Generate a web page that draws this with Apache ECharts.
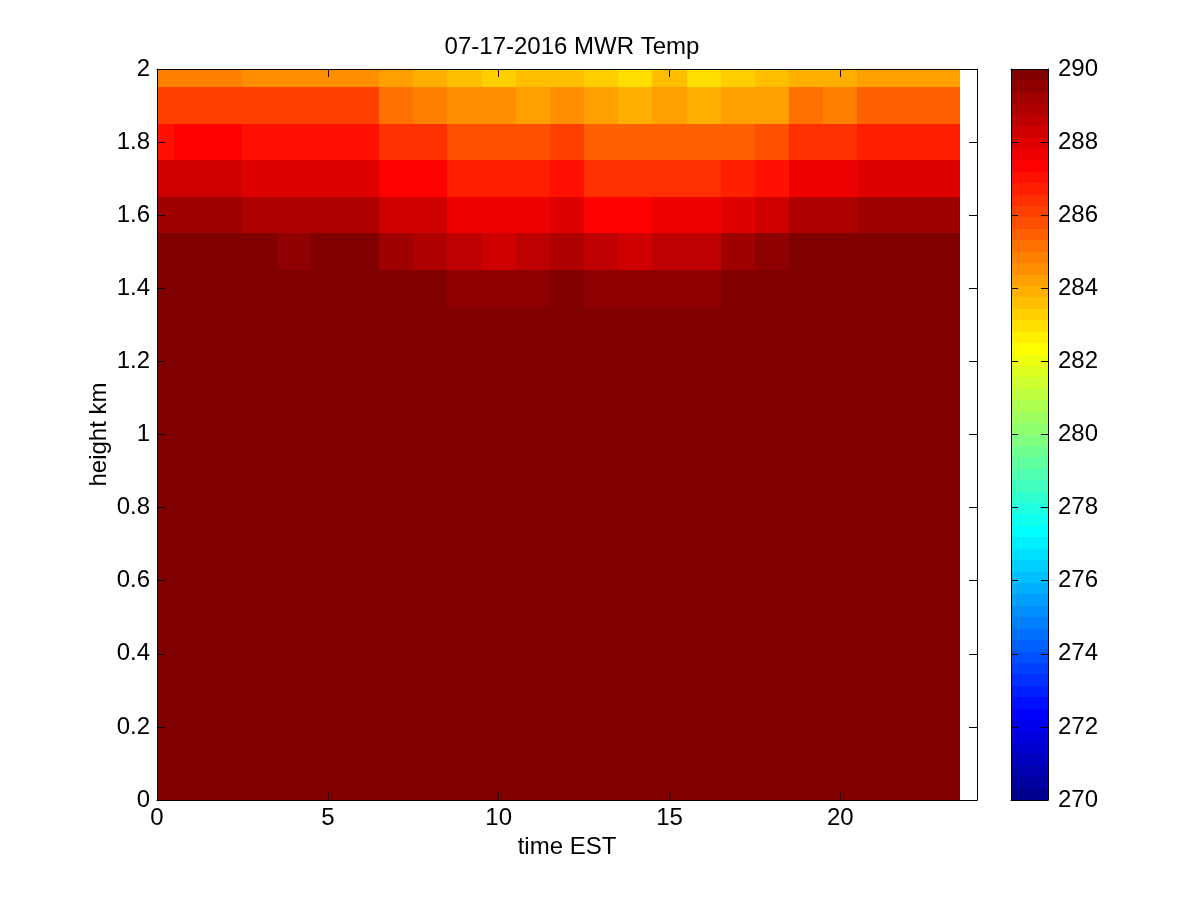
<!DOCTYPE html>
<html>
<head>
<meta charset="utf-8">
<script src="https://cdn.jsdelivr.net/npm/echarts@6/dist/echarts.min.js"></script>
<style>
  html, body { margin: 0; padding: 0; background: #fff; }
  #chart { width: 1200px; height: 900px; }
</style>
</head>
<body>
<div id="chart"></div>
<script>
// ---------------- data ----------------
const titleText = '07-17-2016 MWR Temp';
const xName = 'time EST';
const yName = 'height km';

const hours = [0,1,2,3,4,5,6,7,8,9,10,11,12,13,14,15,16,17,18,19,20,21,22,23];
const heights = [0.0,0.1,0.2,0.3,0.4,0.5,0.6,0.7,0.8,0.9,1.0,1.1,1.2,1.3,1.4,1.5,1.6,1.7,1.8,1.9,2.0];

const xTicks = [0,5,10,15,20];
const yTicks = [0,0.2,0.4,0.6,0.8,1,1.2,1.4,1.6,1.8,2];
const cTicks = [270,272,274,276,278,280,282,284,286,288,290];

// temperature (K) at each height, one value per hour
const t000 = [290,290,290,290,290,290,290,290,290,290,290,290,290,290,290,290,290,290,290,290,290,290,290,290];
const t010 = [290,290,290,290,290,290,290,290,290,290,290,290,290,290,290,290,290,290,290,290,290,290,290,290];
const t020 = [290,290,290,290,290,290,290,290,290,290,290,290,290,290,290,290,290,290,290,290,290,290,290,290];
const t030 = [290,290,290,290,290,290,290,290,290,290,290,290,290,290,290,290,290,290,290,290,290,290,290,290];
const t040 = [290,290,290,290,290,290,290,290,290,290,290,290,290,290,290,290,290,290,290,290,290,290,290,290];
const t050 = [290,290,290,290,290,290,290,290,290,290,290,290,290,290,290,290,290,290,290,290,290,290,290,290];
const t060 = [290,290,290,290,290,290,290,290,290,290,290,290,290,290,290,290,290,290,290,290,290,290,290,290];
const t070 = [290,290,290,290,290,290,290,290,290,290,290,290,290,290,290,290,290,290,290,290,290,290,290,290];
const t080 = [290,290,290,290,290,290,290,290,290,290,290,290,290,290,290,290,290,290,290,290,290,290,290,290];
const t090 = [290,290,290,290,290,290,290,290,290,290,290,290,290,290,290,290,290,290,290,290,290,290,290,290];
const t100 = [290,290,290,290,290,290,290,290,290,290,290,290,290,290,290,290,290,290,290,290,290,290,290,290];
const t110 = [290,290,290,290,290,290,290,290,290,290,290,290,290,290,290,290,290,290,290,290,290,290,290,290];
const t120 = [290,290,290,290,290,290,290,290,290,290,290,290,290,290,290,290,290,290,290,290,290,290,290,290];
const t130 = [290,290,290,290,290,290,290,290,290,290,290,290,290,290,290,290,290,290,290,290,290,290,290,290];
const t140 = [290,290,290,290,290,290,290,290,290,289.5,289.5,289.5,290,289.5,289.5,289.5,289.5,290,290,290,290,290,290,290];
const t150 = [290,290,290,290,289.5,290,290,289.2,288.9,288.6,288.3,288.6,288.9,288.6,288.3,288.6,288.6,289.2,289.5,290,290,290,290,290];
const t160 = [289.2,289.2,289.2,288.9,288.9,288.9,288.9,288.3,288.3,287.7,287.7,287.7,288.0,287.3,287.3,287.7,287.7,288.0,288.3,288.9,288.9,289.2,289.2,289.2];
const t170 = [288.3,288.3,288.3,288.0,288.0,288.0,288.0,287.3,287.3,286.7,286.7,286.7,287.0,286.4,286.4,286.4,286.4,286.7,287.0,287.7,287.7,288.0,288.0,288.0];
const t180 = [287.0,287.3,287.3,287.0,287.0,287.0,287.0,286.4,286.4,285.8,285.8,285.8,286.1,285.5,285.5,285.5,285.5,285.5,285.8,286.4,286.4,286.7,286.7,286.7];
const t190 = [286.1,286.1,286.1,286.1,286.1,286.1,286.1,285.2,284.8,284.5,284.5,284.2,284.5,284.2,283.9,284.2,283.9,284.2,284.2,285.2,284.8,285.5,285.5,285.5];
const t200 = [284.8,284.8,284.8,284.5,284.5,284.5,284.5,284.2,283.9,283.6,283.3,283.6,283.6,283.3,283.0,283.6,283.0,283.3,283.6,283.9,283.9,284.2,284.2,284.2];

const rows = [t000,t010,t020,t030,t040,t050,t060,t070,t080,t090,t100,t110,t120,t130,t140,t150,t160,t170,t180,t190,t200];

// ---------------- colour map (MATLAB jet, 64 levels) ----------------
const CMIN = 270, CMAX = 290, NLEV = 64;
function jetMap(m) {
  const n = Math.ceil(m / 4);
  const u = [];
  for (let k = 1; k <= n; k++) u.push(k / n);
  for (let k = 1; k <= n - 1; k++) u.push(1);
  for (let k = n; k >= 1; k--) u.push(k / n);
  const g0 = Math.ceil(n / 2) - (m % 4 === 1 ? 1 : 0);
  const J = [];
  for (let i = 0; i < m; i++) J.push([0, 0, 0]);
  for (let k = 0; k < u.length; k++) {
    const g = g0 + k + 1, r = g + n, b = g - n;
    if (r >= 1 && r <= m) J[r - 1][0] = u[k];
    if (g >= 1 && g <= m) J[g - 1][1] = u[k];
    if (b >= 1 && b <= m) J[b - 1][2] = u[k];
  }
  return J.map(c => 'rgb(' + c.map(x => Math.round(x * 255)).join(',') + ')');
}
const JET = jetMap(NLEV);
function levelOf(v) {
  let i = Math.floor((v - CMIN) / (CMAX - CMIN) * NLEV);
  return Math.min(NLEV - 1, Math.max(0, i));
}

// ---------------- build series data ----------------
const cells = [];
rows.forEach((row, ri) => {
  row.forEach((v, hi) => cells.push([hours[hi], heights[ri], v]));
});
const dH = hours[1] - hours[0];
const dZ = heights[1] - heights[0];
const levels = [];
for (let k = 0; k < NLEV; k++) levels.push([k]);

const FONT = "'Liberation Sans Narrow', 'Arial Narrow', 'Liberation Sans', Arial, sans-serif";
const FS = 24;

const chart = echarts.init(document.getElementById('chart'), null, { renderer: 'canvas' });

function boxAxis(extra) {
  return Object.assign({
    type: 'value',
    axisLine: { show: true, onZero: false, lineStyle: { color: '#000', width: 1 } },
    axisTick: { show: false },
    axisLabel: { show: false },
    splitLine: { show: false },
    z: 10
  }, extra);
}

const option = {
  backgroundColor: '#fff',
  animation: false,
  title: {
    text: titleText,
    left: 567,
    top: 30,
    textAlign: 'center',
    textStyle: { fontFamily: FONT, fontSize: FS, fontWeight: 'normal', color: '#000' }
  },
  grid: [
    { left: 157, top: 69, width: 820, height: 731, containLabel: false },
    { left: 1011, top: 69, width: 37, height: 731, containLabel: false }
  ],
  xAxis: [
    boxAxis({
      gridIndex: 0, min: 0, max: 24, position: 'bottom',
      axisTick: { show: true, inside: true, length: 8, customValues: xTicks, lineStyle: { color: '#000' } },
      axisLabel: { show: true, customValues: xTicks, color: '#000', fontFamily: FONT, fontSize: FS, margin: 6 },
      name: xName, nameLocation: 'middle', nameGap: 35, nameMoveOverlap: false,
      nameTextStyle: { color: '#000', fontFamily: FONT, fontSize: FS }
    }),
    boxAxis({
      gridIndex: 0, min: 0, max: 24, position: 'top',
      axisTick: { show: true, inside: true, length: 8, customValues: xTicks, lineStyle: { color: '#000' } }
    }),
    boxAxis({ gridIndex: 1, min: 0, max: 1, position: 'bottom' }),
    boxAxis({ gridIndex: 1, min: 0, max: 1, position: 'top' })
  ],
  yAxis: [
    boxAxis({
      gridIndex: 0, min: 0, max: 2, interval: 0.2, position: 'left',
      axisTick: { show: true, inside: true, length: 8, customValues: yTicks, lineStyle: { color: '#000' } },
      axisLabel: { show: true, customValues: yTicks, color: '#000', fontFamily: FONT, fontSize: FS, margin: 7 },
      name: yName, nameLocation: 'middle', nameGap: 46, nameRotate: 90, nameMoveOverlap: false,
      nameTextStyle: { color: '#000', fontFamily: FONT, fontSize: FS }
    }),
    boxAxis({
      gridIndex: 0, min: 0, max: 2, interval: 0.2, position: 'right',
      axisTick: { show: true, inside: true, length: 8, customValues: yTicks, lineStyle: { color: '#000' } }
    }),
    boxAxis({
      gridIndex: 1, min: CMIN, max: CMAX, interval: 2, position: 'right',
      axisTick: { show: true, inside: true, length: 7, customValues: cTicks, lineStyle: { color: '#000' } },
      axisLabel: { show: true, customValues: cTicks, color: '#000', fontFamily: FONT, fontSize: FS, margin: 10 }
    }),
    boxAxis({
      gridIndex: 1, min: CMIN, max: CMAX, interval: 2, position: 'left',
      axisTick: { show: true, inside: true, length: 7, customValues: cTicks, lineStyle: { color: '#000' } }
    })
  ],
  series: [
    {
      type: 'custom',
      xAxisIndex: 0, yAxisIndex: 0,
      z: 2,
      silent: true,
      data: cells,
      renderItem: function (params, api) {
        const h = api.value(0), z = api.value(1), v = api.value(2);
        const x0 = Math.max(0, h - dH / 2), x1 = h + dH / 2;
        const y0 = Math.max(0, z - dZ / 2), y1 = Math.min(2, z + dZ / 2);
        const p0 = api.coord([x0, y1]);
        const p1 = api.coord([x1, y0]);
        const L = Math.round(p0[0]), T = Math.round(p0[1]);
        const R = Math.round(p1[0]), B = Math.round(p1[1]);
        return {
          type: 'rect',
          shape: { x: L, y: T, width: R - L, height: B - T },
          style: { fill: JET[levelOf(v)] }
        };
      }
    },
    {
      type: 'custom',
      xAxisIndex: 2, yAxisIndex: 2,
      z: 2,
      silent: true,
      data: levels,
      renderItem: function (params, api) {
        const k = api.value(0);
        const lo = CMIN + k * (CMAX - CMIN) / NLEV;
        const hi = CMIN + (k + 1) * (CMAX - CMIN) / NLEV;
        const p0 = api.coord([0, hi]);
        const p1 = api.coord([1, lo]);
        const L = Math.round(p0[0]), T = Math.round(p0[1]);
        const R = Math.round(p1[0]), B = Math.round(p1[1]);
        return {
          type: 'rect',
          shape: { x: L, y: T, width: R - L, height: B - T },
          style: { fill: JET[k] }
        };
      }
    }
  ]
};
chart.setOption(option);
</script>
</body>
</html>
